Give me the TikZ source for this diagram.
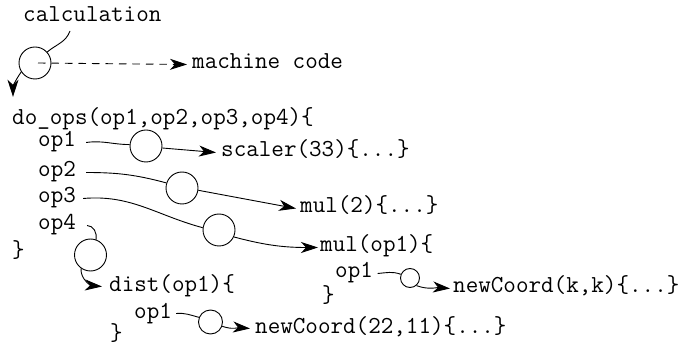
\documentclass[tikz,border=0pt]{standalone}
\usepackage{fontspec}
\usetikzlibrary{arrows.meta}
\tikzset{
  code/.style={font=\ttfamily\fontsize{24.4}{29}\selectfont, inner sep=0pt, text height=13pt, text depth=4pt, anchor=base west},
  circ/.style={draw, circle, inner sep=0pt, minimum size=32pt, line width=0.9pt},
  conn/.style={line width=0.9pt},
  arr/.style={line width=0.9pt, -{Stealth[length=17pt,width=11pt,inset=5pt]}},
  dsh/.style={line width=0.9pt, dash pattern=on 7.5pt off 6pt, -{Stealth[length=17pt,width=11pt,inset=5pt]}}
}
\begin{document}
\begin{tikzpicture}[x=1pt,y=-1pt]
\useasboundingbox (0,0) rectangle (682,344);
% text
\node[code] (calc) at (23,22) {calculation};
\node[code] (mc) at (192,69) {machine code};
\node[code] (dops) at (12,125) {do\_ops(op1,op2,op3,op4)\{};
\node[code] (o1) at (38,147) {op1};
\node[code] (o2) at (38,177) {op2};
\node[code] (o3) at (38,203) {op3};
\node[code] (o4) at (38,230) {op4};
\node[code] (br1) at (12,258) {\}};
\node[code] (sc) at (221,157) {scaler(33)\{...\}};
\node[code] (m2) at (300,213) {mul(2)\{...\}};
\node[code] (mo) at (320,252) {mul(op1)\{};
\node[code] (mo1) at (335,278) {op1};
\node[code] (nk) at (453,293) {newCoord(k,k)\{...\}};
\node[code] (br2) at (322,303) {\}};
\node[code] (di) at (109,291) {dist(op1)\{};
\node[code] (do1) at (134,318) {op1};
\node[code] (n22) at (255,333) {newCoord(22,11)\{...\}};
\node[code] (br3) at (110,340) {\}};
% circles
\node[circ] (c1) at (35,63) {};
\node[circ] (c2) at (146,146) {};
\node[circ] (c3) at (182,188) {};
\node[circ] (c4) at (219,230) {};
\node[circ] (c5) at (90.5,255) {};
\node[circ, minimum size=19pt] (c6) at (410,278) {};
\node[circ, minimum size=24pt] (c7) at (210.5,322) {};
% connectors
\coordinate (k1) at (70,31);
\draw[conn] (k1) to[out=-110,in=40] (c1.42);
\draw[dsh] ([xshift=3pt]c1.center) -- ([xshift=-5pt]mc.west);
\draw[arr] (c1.213) to[out=235,in=90] ([xshift=1pt,yshift=15pt]dops.north west);
\draw[conn] ([xshift=10pt]o1.east) to[out=8,in=180] (c2.175);
\draw[arr] (c2.-7) -- ([xshift=-5pt]sc.west);
\draw[conn] ([xshift=10pt]o2.east) to[out=0,in=165] (c3.162);
\draw[arr] (c3.-8) -- ([xshift=-4pt]m2.west);
\draw[conn] ([xshift=7pt]o3.east) to[out=5,in=165] (c4.172);
\draw[arr] (c4.-25) to[out=-15,in=180] ([xshift=-2pt]mo.west);
\draw[conn] ([xshift=11pt]o4.east) to[out=0,in=80] (c5.70);
\draw[arr] (c5.235) to[out=-95,in=175] ([xshift=-7pt]di.west);
\draw[conn] ([xshift=4pt]do1.east) to[out=5,in=165] (c7.158);
\draw[arr] (c7.-20) to[out=-20,in=175] ([xshift=-5pt]n22.west);
\draw[conn] ([xshift=4.5pt]mo1.east) to[out=5,in=160] (c6.158);
\draw[arr] (c6.-50) to[out=-20,in=175] ([xshift=-3pt]nk.west);
\end{tikzpicture}
\end{document}
